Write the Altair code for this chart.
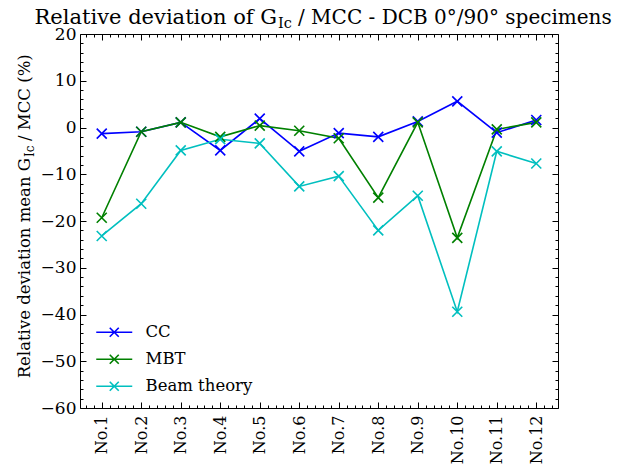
import altair as alt
import pandas as pd

specimens = ["No.1", "No.2", "No.3", "No.4", "No.5", "No.6", "No.7", "No.8", "No.9", "No.10", "No.11", "No.12"]
series_names = ["CC", "MBT", "Beam theory"]
series_colors = ["#0000ff", "#008000", "#00bfbf"]
cc = [-1.3, -0.9, 1.1, -4.9, 1.9, -5.1, -1.2, -2.0, 1.3, 5.6, -1.1, 1.6]
mbt = [-19.3, -0.9, 1.1, -2.0, 0.4, -0.7, -2.3, -15.0, 1.1, -23.6, -0.4, 1.1]
beam = [-23.2, -16.3, -4.9, -2.5, -3.4, -12.6, -10.4, -22.0, -14.6, -39.4, -5.1, -7.7]

rows = []
for name, vals in zip(series_names, [cc, mbt, beam]):
    for i, (s, v) in enumerate(zip(specimens, vals)):
        rows.append({"series": name, "idx": i + 1, "specimen": s, "value": v})
df = pd.DataFrame(rows)

W, H = 478, 374
FONT = "DejaVu Serif"
XPATH = "M-1,-1L1,1M1,-1L-1,1"
LEGPATH = "M-3.6,0H3.6M-0.9,-0.9L0.9,0.9M0.9,-0.9L-0.9,0.9"

xscale = alt.Scale(domain=[0.45, 12.55], nice=False, zero=False)
yscale = alt.Scale(domain=[-60, 20], nice=False, zero=False)

x_major = list(range(1, 13))
x_minor = [round(0.6 + 0.2 * k, 1) for k in range(0, 60)
           if abs(round(0.6 + 0.2 * k, 1) - round(0.6 + 0.2 * k)) > 1e-6 and 0.5 < 0.6 + 0.2 * k < 12.5]
y_major = list(range(-60, 21, 10))
y_minor = [v for v in range(-58, 20, 2) if v % 10 != 0]

label_map = "{" + ",".join(f"{i+1}:'{s}'" for i, s in enumerate(specimens)) + "}"

lines = alt.Chart(df).mark_line(
    strokeWidth=1.6,
    point=alt.OverlayMarkDef(shape=XPATH, filled=False, size=100, strokeWidth=1.6),
).encode(
    x=alt.X("idx:Q", scale=xscale, axis=alt.Axis(
        orient="bottom", values=x_major, tickSize=0, labelAngle=270, labelAlign="right",
        labelBaseline="middle", labelPadding=7, labelFont=FONT, labelFontSize=16,
        labelColor="black", domainColor="black", domainWidth=1, grid=False, title=None,
        labelExpr=label_map + "[datum.value]")),
    y=alt.Y("value:Q", scale=yscale, axis=alt.Axis(
        orient="left", values=y_major, tickSize=0, labelPadding=4, labelFont=FONT,
        labelFontSize=17, labelColor="black", domainColor="black", domainWidth=1,
        grid=False, title=None)),
    color=alt.Color("series:N", scale=alt.Scale(domain=series_names, range=series_colors),
                    legend=alt.Legend(orient="none", legendX=26, legendY=290, title=None,
                                      symbolType=LEGPATH, symbolSize=100, symbolStrokeWidth=1.6,
                                      symbolFillColor="transparent",
                                      labelFont=FONT, labelFontSize=16.5, labelColor="black",
                                      labelOffset=23, rowPadding=10, padding=0)),
    order=alt.Order("idx:Q"),
)


def tick_layer(xo, xoff, xvals, xsize, yo, yoff, yvals, ysize, domain=False):
    return alt.Chart(df).mark_point(opacity=0).encode(
        x=alt.X("idx:Q", scale=xscale, axis=alt.Axis(
            orient=xo, offset=xoff, values=xvals, tickSize=xsize, labels=False,
            domain=domain, domainColor="black", tickColor="black", grid=False, title=None)),
        y=alt.Y("value:Q", scale=yscale, axis=alt.Axis(
            orient=yo, offset=yoff, values=yvals, tickSize=ysize, labels=False,
            domain=domain, domainColor="black", tickColor="black", grid=False, title=None)),
    )


t1 = tick_layer("top", -H, x_major, 6, "right", -W, y_major, 6)
t2 = tick_layer("top", -H, x_minor, 3, "right", -W, y_minor, 3)
t3 = tick_layer("bottom", -H, x_major, 6, "left", -W, y_major, 6, domain=True)
t4 = tick_layer("bottom", -H, x_minor, 3, "left", -W, y_minor, 3)

title_parts = pd.DataFrame({"t": [0]})


def txt(text, x, y, size, align, angle=0):
    return alt.Chart(title_parts).mark_text(
        text=text, font=FONT, fontSize=size, align=align, baseline="alphabetic",
        angle=angle, color="black").encode(x=alt.value(x), y=alt.value(y))


NBSP = "\u00a0"
title1 = txt("Relative deviation of G", 197, -10, 21, "right")
title2 = txt("Ic", 198, -6, 14.5, "left")
title3 = txt(NBSP + "/ MCC - DCB 0°/90° specimens", 218, -10, 20, "left")

yt1 = txt("Relative deviation mean G", -50, 124, 16.5, "right", 270)
yt2 = txt("Ic", -46.5, 123, 12, "left", 270)
yt3 = txt(NBSP + "/ MCC (%)", -50, 107, 16.5, "left", 270)

chart = alt.layer(lines, t1, t2, t3, t4, title1, title2, title3, yt1, yt2, yt3).resolve_axis(
    x="independent", y="independent"
).properties(
    width=W, height=H,
    autosize=alt.AutoSizeParams(type="none"),
    padding={"left": 72, "top": 26, "right": 59, "bottom": 62},
).configure_view(stroke=None).configure(background="white")

chart.save("out.html", embed_options={"renderer": "svg", "actions": False})
